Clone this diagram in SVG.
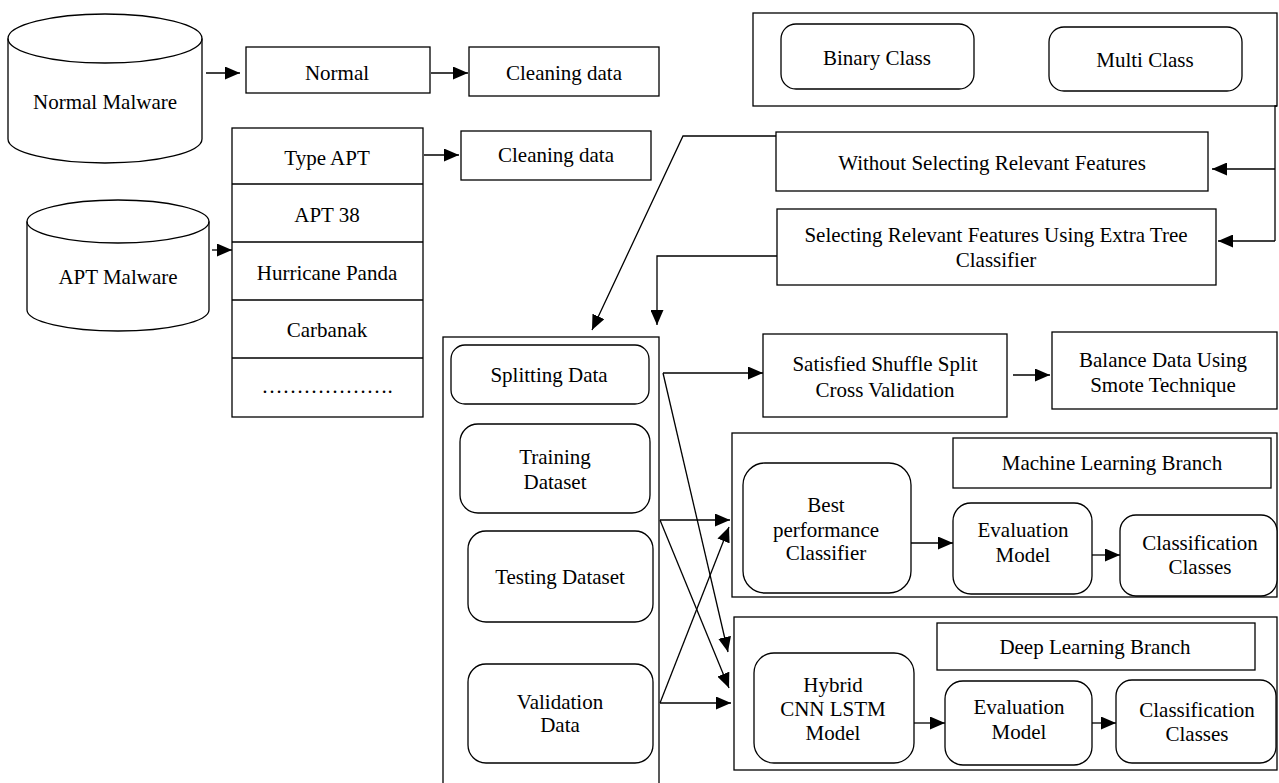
<svg xmlns="http://www.w3.org/2000/svg" width="1279" height="783" viewBox="0 0 1279 783">
<style>
.box{fill:#fff;stroke:#000;stroke-width:1.3}
.ln{fill:none;stroke:#000;stroke-width:1.3}
.arr{fill:none;stroke:#000;stroke-width:1.3;marker-end:url(#ah)}
text{font-family:"Liberation Serif","Times New Roman",serif;font-size:21px;fill:#000;text-anchor:middle}
</style>
<defs>
<marker id="ah" viewBox="0 0 15 13" refX="15" refY="6.5" markerWidth="15" markerHeight="13" markerUnits="userSpaceOnUse" orient="auto">
<path d="M0,0 L15,6.5 L0,13 Z" fill="#000"/>
</marker>
</defs>
<rect width="1279" height="783" fill="#fff"/>

<g id="normal-malware">
<path class="box" d="M8,38.5 A97,24.5 0 0 1 202,38.5 L202,139 A97,24 0 0 1 8,139 Z"/>
<path class="ln" d="M8,38.5 A97,24.5 0 0 0 202,38.5"/>
<text x="105" y="109">Normal Malware</text>
</g>
<g id="apt-malware">
<path class="box" d="M27,221.5 A91,21.5 0 0 1 209,221.5 L209,310 A91,21 0 0 1 27,310 Z"/>
<path class="ln" d="M27,221.5 A91,21.5 0 0 0 209,221.5"/>
<text x="118" y="284">APT Malware</text>
</g>
<g id="normal">
<rect class="box" x="246" y="47" width="184" height="46"/>
<text x="337" y="80">Normal</text>
</g>
<g id="cleaning1">
<rect class="box" x="469" y="47" width="190" height="49"/>
<text x="564" y="80">Cleaning data</text>
</g>
<g id="apt-list">
<rect class="box" x="232" y="128" width="191" height="289"/>
<path class="ln" d="M232,184H423M232,242H423M232,300H423M232,358H423"/>
<text x="327" y="165">Type APT</text>
<text x="327" y="222">APT 38</text>
<text x="327" y="280">Hurricane Panda</text>
<text x="327" y="337">Carbanak</text>
<text x="327" y="393">……………….</text>
</g>
<g id="cleaning2">
<rect class="box" x="461" y="131" width="190" height="49"/>
<text x="556" y="162">Cleaning data</text>
</g>

<g id="class-group">
<rect class="box" x="753" y="13" width="524" height="93"/>
<rect class="box" x="781" y="24" width="193" height="65" rx="15"/>
<text x="877" y="65">Binary Class</text>
<rect class="box" x="1049" y="27" width="193" height="64" rx="15"/>
<text x="1145" y="67">Multi Class</text>
</g>
<g id="without">
<rect class="box" x="776" y="132" width="432" height="59"/>
<text x="992" y="170">Without Selecting Relevant Features</text>
</g>
<g id="selecting">
<rect class="box" x="777" y="209" width="439" height="76"/>
<text x="996" y="242">Selecting Relevant Features Using Extra Tree</text>
<text x="996" y="267">Classifier</text>
</g>

<g id="split-container">
<rect class="box" x="443" y="337" width="216" height="460"/>
<rect class="box" x="451" y="345" width="198" height="59" rx="14"/>
<text x="549" y="382">Splitting Data</text>
<rect class="box" x="460" y="424" width="190" height="89" rx="18"/>
<text x="555" y="464">Training</text>
<text x="555" y="489">Dataset</text>
<rect class="box" x="468" y="531" width="185" height="91" rx="18"/>
<text x="560" y="584">Testing Dataset</text>
<rect class="box" x="468" y="664" width="185" height="99" rx="18"/>
<text x="560" y="709">Validation</text>
<text x="560" y="732">Data</text>
</g>

<g id="satisfied">
<rect class="box" x="763" y="334" width="244" height="83"/>
<text x="885" y="371">Satisfied Shuffle Split</text>
<text x="885" y="397">Cross Validation</text>
</g>
<g id="balance">
<rect class="box" x="1052" y="332" width="225" height="77"/>
<text x="1163" y="367">Balance Data Using</text>
<text x="1163" y="392">Smote Technique</text>
</g>

<g id="ml-branch">
<rect class="box" x="732" y="433" width="545" height="164"/>
<rect class="box" x="953" y="438" width="318" height="50"/>
<text x="1112" y="470">Machine Learning Branch</text>
<rect class="box" x="743" y="463" width="168" height="130" rx="22"/>
<text x="826" y="512">Best</text>
<text x="826" y="537">performance</text>
<text x="826" y="560">Classifier</text>
<rect class="box" x="953" y="503" width="139" height="91" rx="18"/>
<text x="1023" y="537">Evaluation</text>
<text x="1023" y="562">Model</text>
<rect class="box" x="1120" y="515" width="157" height="81" rx="16"/>
<text x="1200" y="550">Classification</text>
<text x="1200" y="574">Classes</text>
</g>

<g id="dl-branch">
<rect class="box" x="734" y="617" width="543" height="153"/>
<rect class="box" x="937" y="623" width="318" height="47"/>
<text x="1095" y="654">Deep Learning Branch</text>
<rect class="box" x="754" y="653" width="160" height="110" rx="20"/>
<text x="833" y="692">Hybrid</text>
<text x="833" y="716">CNN LSTM</text>
<text x="833" y="740">Model</text>
<rect class="box" x="945" y="681" width="147" height="84" rx="18"/>
<text x="1019" y="714">Evaluation</text>
<text x="1019" y="739">Model</text>
<rect class="box" x="1116" y="680" width="160" height="83" rx="16"/>
<text x="1197" y="717">Classification</text>
<text x="1197" y="741">Classes</text>
</g>

<g id="connectors">
<path class="arr" d="M206,73H240"/>
<path class="arr" d="M431,73H468"/>
<path class="arr" d="M424,155H459"/>
<path class="arr" d="M212,250H232"/>
<path class="ln" d="M1277,106H1275V241"/>
<path class="arr" d="M1275,169H1212"/>
<path class="arr" d="M1275,241H1218"/>
<path class="arr" d="M776,136H683L592,330"/>
<path class="arr" d="M777,256H657V325"/>
<path class="arr" d="M663,373H763"/>
<path class="arr" d="M663,373L728,652"/>
<path class="arr" d="M660,520H730"/>
<path class="arr" d="M660,520L729,688"/>
<path class="arr" d="M660,703H731"/>
<path class="arr" d="M660,703L729,527"/>
<path class="arr" d="M1013,375H1050"/>
<path class="arr" d="M911,543H953"/>
<path class="arr" d="M1092,555H1120"/>
<path class="arr" d="M914,723H945"/>
<path class="arr" d="M1092,723H1116"/>
</g>
</svg>
